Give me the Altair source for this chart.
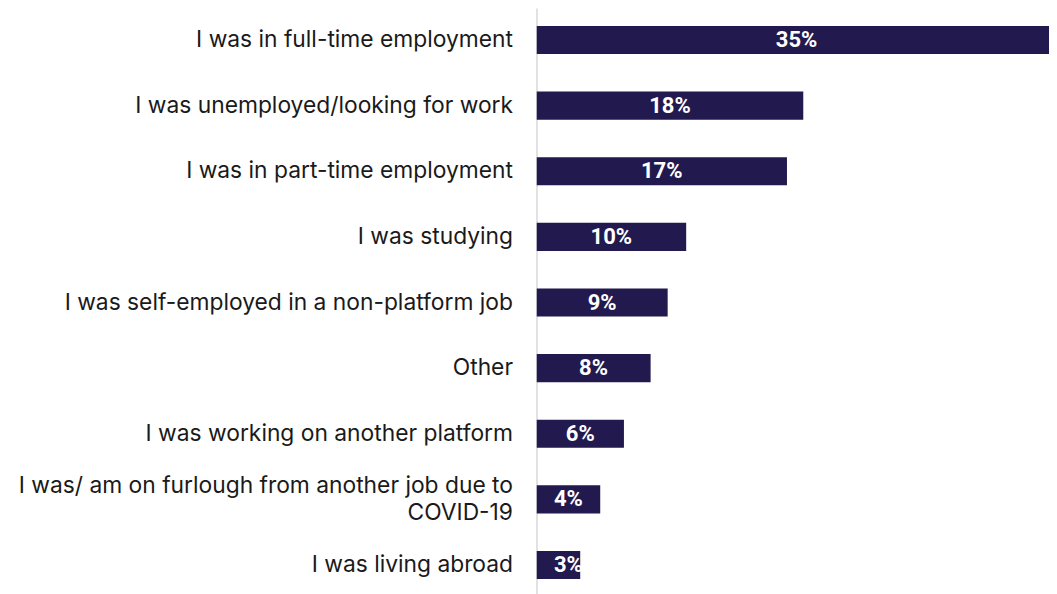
import altair as alt
import pandas as pd

categories = [
    "I was in full-time employment",
    "I was unemployed/looking for work",
    "I was in part-time employment",
    "I was studying",
    "I was self-employed in a non-platform job",
    "Other",
    "I was working on another platform",
    "I was/ am on furlough from another job due to\nCOVID-19",
    "I was living abroad",
]
values = [35.1, 18.0, 16.9, 10.1, 8.85, 7.7, 5.9, 4.3, 2.95]
labels = ["35%", "18%", "17%", "10%", "9%", "8%", "6%", "4%", "3%"]

df = pd.DataFrame({"category": categories, "value": values, "label": labels})
# label sits in the middle of the bar, but never closer than ~2 points to the axis
df["mid"] = (df["value"] / 2).clip(lower=2.15)

y_enc = alt.Y(
    "category:N",
    sort=categories,
    scale=alt.Scale(paddingInner=0.573, paddingOuter=0.274),
    axis=alt.Axis(
        title=None,
        ticks=False,
        domainColor="#d9d9d9",
        domainWidth=1.5,
        labelFont="Inter",
        labelFontSize=22.8,
        labelColor="#1a1a1a",
        labelPadding=24,
        labelLimit=0,
        labelExpr="split(datum.label, '\\n')",
        labelLineHeight=27,
        labelOffset={
            "condition": {"test": "indexof(datum.label, '\\n') >= 0", "value": -13.5},
            "value": 0,
        },
    ),
)
x_scale = alt.Scale(domain=[0, 34.58], nice=False, zero=True)

bars = alt.Chart(df).mark_bar(color="#221a4f", clip=True).encode(
    x=alt.X("value:Q", scale=x_scale, axis=None),
    y=y_enc,
)
text = alt.Chart(df).mark_text(
    color="white", font="Roboto", fontWeight="bold", fontSize=22
).encode(
    x=alt.X("mid:Q", scale=x_scale, axis=None),
    y=alt.Y("category:N", sort=categories),
    text="label:N",
)

chart = (
    (bars + text)
    .properties(
        width=512.5,
        height=589,
        padding={"left": 528.5, "top": 0, "right": 0, "bottom": 0},
        autosize=alt.AutoSizeParams(type="none"),
    )
    .configure_view(stroke=None)
)

chart.save("out.html", embed_options={"renderer": "svg", "actions": False})
